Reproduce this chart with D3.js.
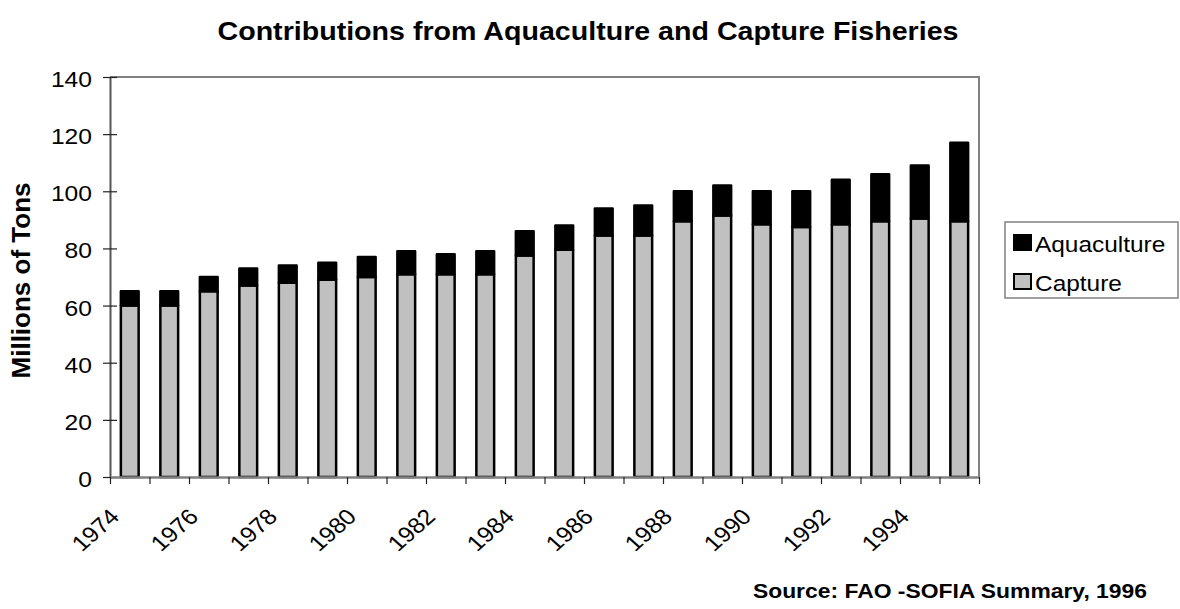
<!DOCTYPE html>
<html>
<head>
<meta charset="utf-8">
<script src="https://cdn.jsdelivr.net/npm/d3@7"></script>
<style>
  html, body { margin: 0; padding: 0; background: #fff; }
  svg { display: block; font-family: "Liberation Sans", Arial, sans-serif; }
</style>
</head>
<body>
<svg id="chart" width="1180" height="609"></svg>
<script>
// ---- data (millions of tons) ----
const years = [1974,1975,1976,1977,1978,1979,1980,1981,1982,1983,1984,1985,1986,1987,1988,1989,1990,1991,1992,1993,1994,1995];
const capture = [60,60,65,67,68,69,70,71,71,71,77.5,79.5,84.5,84.5,89.5,91.5,88.5,87.5,88.5,89.5,90.5,89.5];
const aquaculture = [5,5,5,6,6,6,7,8,7,8,8.5,8.5,9.5,10.5,10.5,10.5,11.5,12.5,15.5,16.5,18.5,27.5];
const yTicks = [0,20,40,60,80,100,120,140];
const xLabels = [1974,1976,1978,1980,1982,1984,1986,1988,1990,1992,1994];
const seriesNames = ["Aquaculture","Capture"];
const titleText = "Contributions from Aquaculture and Capture Fisheries";
const yTitle = "Millions of Tons";
const sourceText = "Source: FAO -SOFIA Summary, 1996";

// ---- layout ----
const SX = 1.12; // horizontal stretch of the original picture's text
const L = 110, R = 979, T = 77, B = 477;
const svg = d3.select("#chart");

const x = d3.scaleBand().domain(years).range([L, R]).paddingInner(0.55).paddingOuter(0.275);
const y = d3.scaleLinear().domain([0, 140]).range([B, T]);
const xb = d3.scaleLinear().domain([0, years.length]).range([L, R]);

const rows = years.map((yr, i) => ({year: yr, capture: capture[i], aquaculture: aquaculture[i]}));
const stack = d3.stack().keys(["capture", "aquaculture"])(rows);

// frame (top and right)
svg.append("path")
  .attr("d", `M${L},${T}H${R}V${B}`)
  .attr("fill", "none").attr("stroke", "#808080").attr("stroke-width", 2);

// bars
const fills = {capture: "#c0c0c0", aquaculture: "#000"};
stack.forEach(s => {
  svg.append("g").selectAll("rect").data(s).join("rect")
    .attr("x", d => x(d.data.year))
    .attr("y", d => y(d[1]))
    .attr("width", x.bandwidth())
    .attr("height", d => y(d[0]) - y(d[1]))
    .attr("fill", fills[s.key])
    .attr("stroke", "#000").attr("stroke-width", 2.5)
    .attr("stroke-linejoin", "round");
});

// y axis
const yAxis = svg.append("g").attr("transform", `translate(${L},0)`)
  .call(d3.axisLeft(y).tickValues(yTicks).tickSizeInner(7).tickSizeOuter(0).tickFormat(""));
yAxis.select(".domain").attr("stroke", "#555").attr("stroke-width", 2);
yAxis.selectAll(".tick line").attr("x2", 7).attr("x1", -7).attr("stroke", "#222").attr("stroke-width", 1.2);

svg.append("g").selectAll("text").data(yTicks).join("text")
  .attr("transform", d => `translate(${L - 18},${y(d) + 10}) scale(${SX},1)`)
  .attr("text-anchor", "end").attr("font-size", 22).attr("fill", "#000")
  .text(d => d);

// x axis
const xAxis = svg.append("g").attr("transform", `translate(0,${B})`)
  .call(d3.axisBottom(xb).tickValues(d3.range(years.length + 1)).tickSizeInner(7).tickSizeOuter(0).tickFormat(""));
xAxis.select(".domain").attr("stroke", "#808080").attr("stroke-width", 2.5);
xAxis.selectAll(".tick line").attr("stroke", "#222").attr("stroke-width", 1.2);

svg.append("g").selectAll("text").data(xLabels).join("text")
  .attr("transform", d => `translate(${x(d) + x.bandwidth() / 2 - 9},${B + 41}) scale(${SX},1) rotate(-45)`)
  .attr("text-anchor", "end").attr("font-size", 22).attr("fill", "#000")
  .text(d => d);

// title
svg.append("text")
  .attr("transform", `translate(588,40) scale(1.1,1)`)
  .attr("text-anchor", "middle").attr("font-size", 26).attr("font-weight", "bold")
  .text(titleText);

// y title
svg.append("text")
  .attr("transform", `translate(30,${(178 + 383) / 2}) rotate(-90)`)
  .attr("text-anchor", "middle").attr("font-size", 26).attr("font-weight", "bold")
  .text(yTitle);

// source
svg.append("text")
  .attr("transform", `translate(1147,598) scale(1.1,1)`)
  .attr("text-anchor", "end").attr("font-size", 20.8).attr("font-weight", "bold")
  .text(sourceText);

// legend
const lg = svg.append("g");
lg.append("rect").attr("x", 1005).attr("y", 222).attr("width", 173).attr("height", 76)
  .attr("fill", "#fff").attr("stroke", "#808080").attr("stroke-width", 1.5);
const legendFill = {Aquaculture: "#000", Capture: "#c0c0c0"};
const ly = d3.scalePoint().domain(seriesNames).range([242, 281]);
lg.selectAll("rect.sw").data(seriesNames).join("rect").attr("class", "sw")
  .attr("x", 1014).attr("y", d => ly(d) - 7).attr("width", 17).attr("height", 15)
  .attr("fill", d => legendFill[d]).attr("stroke", "#000").attr("stroke-width", 2);
lg.selectAll("text").data(seriesNames).join("text")
  .attr("transform", d => `translate(1035,${ly(d) + 10}) scale(1.11,1)`)
  .attr("font-size", 22).attr("fill", "#000")
  .text(d => d);
</script>
</body>
</html>
